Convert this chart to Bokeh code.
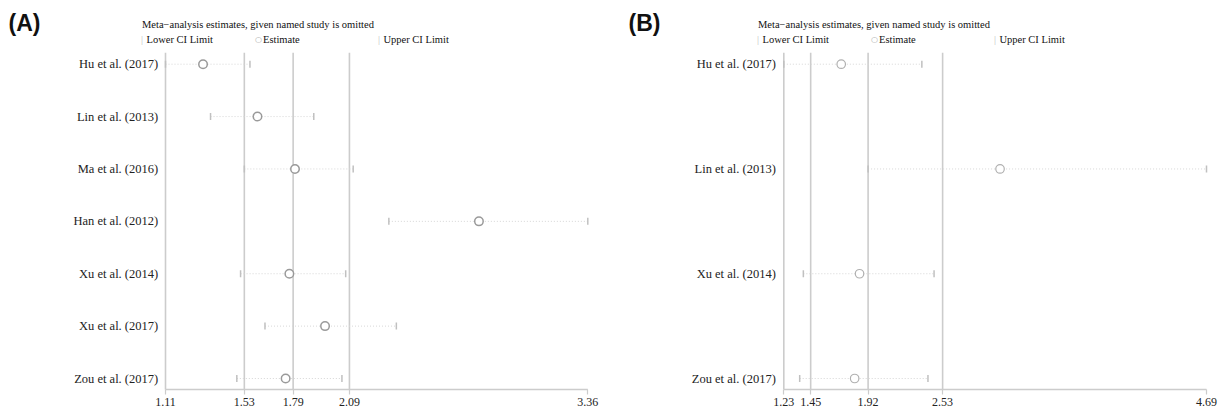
import math
from bokeh.plotting import figure
from bokeh.layouts import row
from bokeh.models import (Range1d, FixedTicker, Label, ColumnDataSource,
                          PrintfTickFormatter)
from bokeh.core.properties import value
from bokeh.embed import file_html
from bokeh.resources import INLINE

# ---------------- data ----------------
studies_a = ["Hu et al. (2017)", "Lin et al. (2013)", "Ma et al. (2016)", "Han et al. (2012)",
             "Xu et al. (2014)", "Xu et al. (2017)", "Zou et al. (2017)"]
lower_a = [1.11, 1.35, 1.53, 2.30, 1.51, 1.64, 1.49]
est_a = [1.31, 1.60, 1.80, 2.78, 1.77, 1.96, 1.75]
upper_a = [1.56, 1.90, 2.11, 3.36, 2.07, 2.34, 2.05]
overall_a = [1.53, 1.79, 2.09]
ticks_a = [1.11, 1.53, 1.79, 2.09, 3.36]

studies_b = ["Hu et al. (2017)", "Lin et al. (2013)", "Xu et al. (2014)", "Zou et al. (2017)"]
lower_b = [1.23, 1.92, 1.39, 1.36]
est_b = [1.70, 3.00, 1.85, 1.81]
upper_b = [2.36, 4.69, 2.46, 2.41]
overall_b = [1.45, 1.92, 2.53]
ticks_b = [1.23, 1.45, 1.92, 2.53, 4.69]

heading = "Meta\u2212analysis estimates, given named study is omitted"
legend_texts = ["Lower CI Limit", "Estimate", "Upper CI Limit"]

SERIF = "Liberation Serif"
W = 616          # figure / frame width
FH = 391         # frame height (header included)
ROW1, ROWN, AXIS_Y, LINE_TOP = 63.7, 378.0, 389.0, 52.3   # pixel layout
GRID = "#cccccc"


def make_panel(tag, tag_x, studies, lower, est, upper, overall, ticks,
               axis_px, end_px, label_gap, circ_color, circ_w):
    n = len(studies)
    ys = list(range(1, n + 1))
    k = (end_px - axis_px) / (ticks[-1] - ticks[0])
    s = (ROWN - ROW1) / (n - 1)
    y_top_edge = 1 - ROW1 / s
    y_bot_edge = n + (FH - ROWN) / s
    y_axis = n + (AXIS_Y - ROWN) / s
    y_line_top = 1 - (ROW1 - LINE_TOP) / s

    p = figure(frame_width=W, frame_height=FH,
               x_range=Range1d(ticks[0] - axis_px / k, ticks[-1] + (W - end_px) / k),
               y_range=Range1d(y_bot_edge, y_top_edge),
               output_backend="svg", toolbar_location=None, y_axis_location=None,
               min_border_left=0, min_border_right=0, min_border_top=0,
               min_border_bottom=0)
    p.outline_line_color = None
    p.grid.visible = False
    p.background_fill_color = "white"

    # reference lines (overall lower / estimate / upper) and spines
    p.segment(x0=overall, y0=[y_line_top] * len(overall), x1=overall,
              y1=[y_axis] * len(overall), line_color=GRID, line_width=1.6)
    p.segment(x0=[ticks[0]], y0=[y_line_top], x1=[ticks[0]], y1=[y_axis],
              line_color=GRID, line_width=1.6)
    p.segment(x0=[ticks[0]], y0=[y_axis], x1=[ticks[-1]], y1=[y_axis],
              line_color=GRID, line_width=1.6)

    src = ColumnDataSource(dict(y=ys, lo=lower, est=est, hi=upper, name=studies))
    p.segment(x0="lo", y0="y", x1="hi", y1="y", source=src, line_color="#d6d6d6",
              line_width=1, line_dash="1 2")
    p.scatter(x="lo", y="y", source=src, marker="dash", angle=math.pi / 2, size=7,
              line_color="#c0c0c0", line_width=1.5)
    p.scatter(x="hi", y="y", source=src, marker="dash", angle=math.pi / 2, size=7,
              line_color="#c0c0c0", line_width=1.5)
    p.scatter(x="est", y="y", source=src, marker="circle", size=8.5,
              fill_color="white", line_color=circ_color, line_width=circ_w)

    # study names (y-axis labels)
    p.text(x=[ticks[0]] * n, y=ys, text=studies, x_offset=-label_gap,
           text_align="right", text_baseline="middle", text_font=value(SERIF),
           text_font_size="12.5px", text_color="#222222")

    # x axis
    xa = p.xaxis[0]
    xa.ticker = FixedTicker(ticks=ticks)
    xa.formatter = PrintfTickFormatter(format="%.2f")
    xa.axis_line_color = None
    xa.major_tick_line_color = GRID
    xa.major_tick_line_width = 1.2
    xa.major_tick_out = 3
    xa.major_tick_in = 2
    xa.minor_tick_line_color = None
    xa.major_label_standoff = 3
    xa.major_label_text_font = SERIF
    xa.major_label_text_font_size = "12px"
    xa.major_label_text_color = "#222222"

    def lab(x, page_y, text, **kw):
        opts = dict(x=x, y=FH - page_y, x_units="screen", y_units="screen", text=text,
                    text_font=SERIF, text_font_size="10.5px", text_color="#111111",
                    text_baseline="alphabetic")
        opts.update(kw)
        p.add_layout(Label(**opts))

    lab(tag_x, 22.5, tag, text_font="Liberation Sans", text_font_size="23px",
        text_font_style="bold", text_color="#111111")
    hx = 141.5
    lab(hx, 23.5, heading)
    lab(hx - 1, 38.8, "|", text_color="#bbbbbb", text_font_size="10px")
    lab(hx + 4.5, 38.8, legend_texts[0])
    lab(hx + 113, 38.8, "\u25cb", text_color="#aaaaaa", text_font="DejaVu Sans",
        text_font_size="8px")
    lab(hx + 121, 38.8, legend_texts[1])
    lab(hx + 236, 38.8, "|", text_color="#bbbbbb", text_font_size="10px")
    lab(hx + 241.5, 38.8, legend_texts[2])
    return p


pa = make_panel("(A)", 8, studies_a, lower_a, est_a, upper_a, overall_a, ticks_a,
                165.0, 587.3, 7.3, "#9a9a9a", 1.5)
pb = make_panel("(B)", 12, studies_b, lower_b, est_b, upper_b, overall_b, ticks_b,
                167.3, 590.0, 8.0, "#b0b0b0", 1.2)

layout = row(pa, pb, spacing=0)
open("out.html", "w").write(file_html(layout, INLINE))
